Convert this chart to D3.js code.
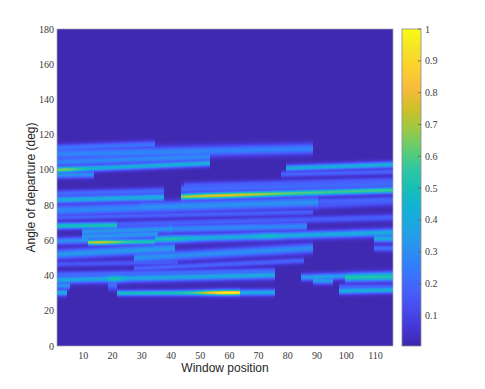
<!DOCTYPE html>
<html>
<head>
<meta charset="utf-8">
<script src="https://cdn.jsdelivr.net/npm/d3@7"></script>
<style>
  html, body { margin: 0; padding: 0; background: #fff; }
  svg { display: block; }
  .tick { font-family: "Liberation Serif", "Times New Roman", Times, serif; font-size: 10px; fill: #3a3a3a; }
  .lab { font-family: "Liberation Sans", Arial, Helvetica, sans-serif; font-size: 12px; fill: #262626; }
</style>
</head>
<body>
<svg id="chart" width="485" height="389"></svg>
<script>
// window positions / angles of each beam streak
var streakFrom  = [1, 1, 1, 1, 1, 80, 78, 45, 1, 1, 44, 44, 30, 1, 90, 1, 1, 22, 10, 40, 10, 35, 12, 1, 110, 1, 28, 110, 1, 28, 1, 1, 1, 1, 22, 64, 85, 100, 89, 98, 98, 19];
var streakTo    = [34, 88, 53, 53, 13, 116, 116, 116, 37, 37, 116, 116, 116, 90, 116, 88, 21, 116, 40, 86, 35, 116, 34, 11, 116, 41, 88, 116, 42, 85, 75, 75, 5, 4, 63, 75, 116, 116, 95, 116, 116, 21];
var angleFrom   = [112.5, 109, 104.5, 100, 97, 101, 97.5, 91, 83, 86.5, 84.8, 89, 80, 77, 80, 73, 68.2, 69, 65, 66.5, 62, 60.5, 58.8, 59.5, 61, 52, 50, 55.5, 46.5, 44, 37.5, 40.5, 34.3, 30.3, 30, 30.3, 39, 38.8, 37, 31.2, 33.5, 34.5];
var angleTo     = [114.5, 112, 107.5, 103.8, 97.3, 103, 99, 94, 84.5, 88, 88.5, 92, 83, 81.5, 82, 76, 68.6, 73, 66.5, 68, 63.5, 64.5, 59.3, 60, 61, 55.5, 55.5, 55.5, 47.5, 48.5, 40.2, 42.5, 34.3, 30.3, 30.3, 30.4, 40.5, 39.2, 37, 31.8, 33.5, 34.5];
var streakLevel = [0.22, 0.27, 0.27, 0.42, 0.3, 0.42, 0.18, 0.16, 0.4, 0.2, 0.58, 0.19, 0.17, 0.28, 0.15, 0.17, 0.5, 0.17, 0.3, 0.28, 0.3, 0.4, 0.52, 0.3, 0.4, 0.33, 0.3, 0.22, 0.15, 0.18, 0.38, 0.2, 0.3, 0.42, 0.5, 0.4, 0.35, 0.48, 0.33, 0.42, 0.18, 0.2];
var streakWidth = [1.3, 1.9, 1.6, 1.1, 1.2, 1.1, 1.1, 1.3, 1.3, 1.3, 1.1, 1.6, 1.3, 2.0, 1.6, 1.1, 1.1, 1.3, 1.5, 1.5, 1.5, 1.35, 0.95, 1.3, 1.3, 1.75, 1.75, 1.1, 1.1, 1.1, 1.35, 1.2, 1.3, 1.1, 0.95, 1.1, 1.2, 1.5, 1.2, 1.1, 1.1, 1.8];

// brighter spots along some streaks
var hotStreak = [3, 10, 22, 30, 21, 21, 34];
var hotCenter = [3, 58, 16, 21, 40, 73, 60];
var hotSpread = [5, 12, 5, 2, 5, 3, 7];
var hotLevel  = [0.65, 0.78, 0.75, 0.52, 0.52, 0.48, 1.0];

var backgroundLevel = 0.01;

var xTicks = [10, 20, 30, 40, 50, 60, 70, 80, 90, 100, 110];
var yTicks = [0, 20, 40, 60, 80, 100, 120, 140, 160, 180];
var cbTicks = [0.1, 0.2, 0.3, 0.4, 0.5, 0.6, 0.7, 0.8, 0.9, 1];

// parula (sampled)
var parula = [
  [0.2422,0.1504,0.6603],[0.2706,0.2147,0.8364],[0.2813,0.3006,0.9414],[0.2699,0.3892,0.9906],
  [0.1963,0.4847,0.9892],[0.1687,0.5703,0.9359],[0.1248,0.6459,0.8883],[0.0689,0.6948,0.8394],
  [0.0964,0.7500,0.7120],[0.1938,0.7758,0.6251],[0.3909,0.8029,0.4354],[0.6174,0.7876,0.2612],
  [0.8203,0.7498,0.1535],[0.9728,0.7298,0.2394],[0.9892,0.8136,0.1885],[0.9610,0.8890,0.1537],
  [0.9769,0.9839,0.0805]
];

(function () {
  var pLeft = 57, pRight = 393, pTop = 29, pBottom = 346;
  var cbLeft = 402, cbRight = 421;

  var svg = d3.select("#chart");

  var x = d3.scaleLinear().domain([1, 116]).range([pLeft, pRight]);
  var y = d3.scaleLinear().domain([0, 180]).range([pBottom, pTop]);
  var cb = d3.scaleLinear().domain([0.004, 1]).range([pBottom, pTop]);

  var color = d3.scaleLinear()
      .domain(parula.map(function(d, i) { return i / (parula.length - 1); }))
      .range(parula.map(function(d) { return d3.rgb(d[0] * 255, d[1] * 255, d[2] * 255); }))
      .clamp(true);

  function level(s, xi) {
    var v = streakLevel[s];
    for (var k = 0; k < hotStreak.length; k++) {
      if (hotStreak[k] !== s) continue;
      var d = (xi - hotCenter[k]) / hotSpread[k];
      var h = streakLevel[s] + (hotLevel[k] - streakLevel[s]) * Math.exp(-0.5 * d * d);
      if (h > v) v = h;
    }
    return v;
  }

  function field(xi, a) {
    var best = 0, rest = 0;
    for (var s = 0; s < streakFrom.length; s++) {
      if (xi < streakFrom[s] || xi > streakTo[s]) continue;
      var span = streakTo[s] - streakFrom[s];
      var t = span > 0 ? (xi - streakFrom[s]) / span : 0;
      var c = angleFrom[s] + (angleTo[s] - angleFrom[s]) * t;
      var d = (a - c) / streakWidth[s];
      if (Math.abs(d) > 7) continue;
      // core plus a faint halo
      var w = level(s, xi) * (0.82 * Math.exp(-0.5 * d * d) + 0.18 * Math.exp(-0.125 * d * d));
      if (w > best) { rest += best; best = w; } else rest += w;
    }
    return Math.min(1, Math.max(backgroundLevel, best + 0.2 * rest));
  }

  // heat map image
  var W = pRight - pLeft, H = pBottom - pTop;
  var canvas = document.createElement("canvas");
  canvas.width = W; canvas.height = H;
  var ctx = canvas.getContext("2d");
  var img = ctx.createImageData(W, H);
  for (var i = 0; i < W; i++) {
    var xi = Math.max(1, Math.min(116, Math.round(x.invert(pLeft + i + 0.5))));
    for (var j = 0; j < H; j++) {
      var a = y.invert(pTop + j + 0.5);
      var c = d3.rgb(color(field(xi, a)));
      var p = (j * W + i) * 4;
      img.data[p] = c.r; img.data[p + 1] = c.g; img.data[p + 2] = c.b; img.data[p + 3] = 255;
    }
  }
  ctx.putImageData(img, 0, 0);

  svg.append("image")
      .attr("x", pLeft).attr("y", pTop)
      .attr("width", W).attr("height", H)
      .attr("preserveAspectRatio", "none")
      .attr("href", canvas.toDataURL());

  svg.append("rect")
      .attr("x", pLeft).attr("y", pTop)
      .attr("width", W).attr("height", H)
      .attr("fill", "none")
      .attr("stroke", "#a5a5a5")
      .attr("stroke-width", 0.7);

  // tick labels
  svg.append("g").selectAll("text")
    .data(xTicks)
    .enter().append("text")
      .attr("class", "tick")
      .attr("font-family", "Liberation Serif")
      .attr("x", function(d) { return x(d); })
      .attr("y", 359)
      .attr("text-anchor", "middle")
      .text(function(d) { return d; });

  svg.append("g").selectAll("text")
    .data(yTicks)
    .enter().append("text")
      .attr("class", "tick")
      .attr("x", 54)
      .attr("y", function(d) { return y(d) + 3.5; })
      .attr("text-anchor", "end")
      .text(function(d) { return d; });

  svg.append("text")
      .attr("class", "lab")
      .attr("x", (pLeft + pRight) / 2)
      .attr("y", 372)
      .attr("text-anchor", "middle")
      .text("Window position");

  svg.append("text")
      .attr("class", "lab")
      .attr("transform", "translate(35," + (pTop + pBottom) / 2 + ") rotate(-90)")
      .attr("text-anchor", "middle")
      .text("Angle of departure (deg)");

  // colorbar
  var grad = svg.append("defs").append("linearGradient")
      .attr("id", "cbgrad")
      .attr("x1", 0).attr("y1", 1).attr("x2", 0).attr("y2", 0);
  grad.selectAll("stop")
    .data(d3.range(0, 1.0001, 0.02))
    .enter().append("stop")
      .attr("offset", function(d) { return d; })
      .attr("stop-color", function(d) { return color(cb.domain()[0] + d * (1 - cb.domain()[0])); });

  svg.append("rect")
      .attr("x", cbLeft).attr("y", pTop)
      .attr("width", cbRight - cbLeft).attr("height", H)
      .attr("fill", "url(#cbgrad)")
      .attr("stroke", "#8c8c8c")
      .attr("stroke-width", 0.8);

  var cbg = svg.append("g");
  cbg.selectAll("line")
    .data(cbTicks)
    .enter().append("line")
      .attr("x1", cbRight - 3).attr("x2", cbRight)
      .attr("y1", function(d) { return cb(d); })
      .attr("y2", function(d) { return cb(d); })
      .attr("stroke", "#555")
      .attr("stroke-width", 0.7);
  cbg.selectAll("text")
    .data(cbTicks)
    .enter().append("text")
      .attr("class", "tick")
      .attr("x", 425)
      .attr("y", function(d) { return cb(d) + 3.5; })
      .text(function(d) { return d; });
})();
</script>
</body>
</html>
